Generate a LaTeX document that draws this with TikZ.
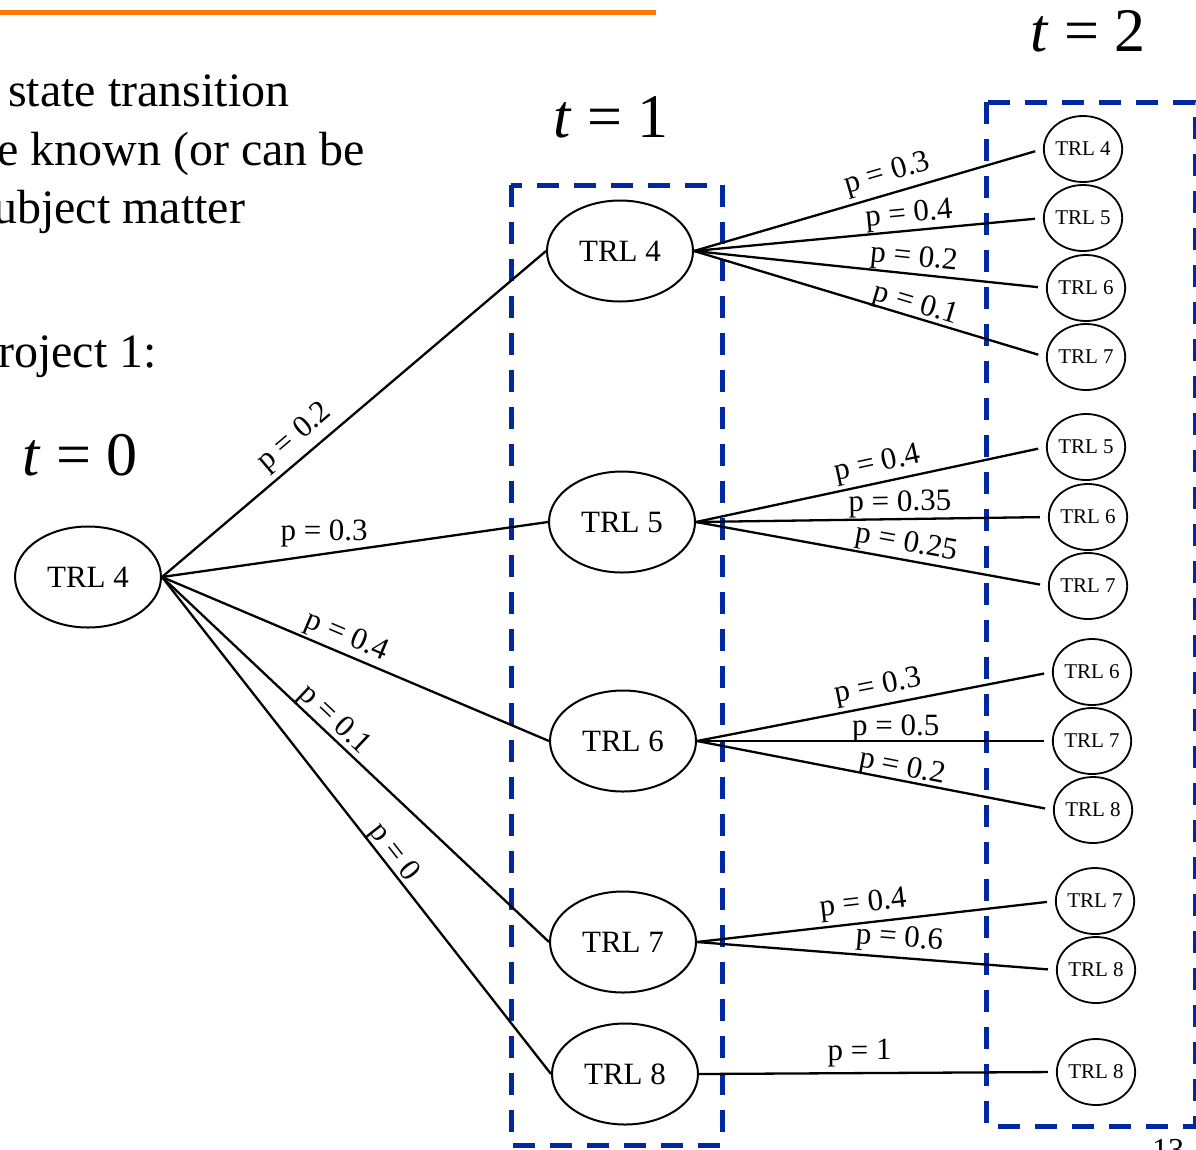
\documentclass[tikz,border=0pt]{standalone}
\usepackage{fontspec}
\setmainfont{Liberation Serif}
\usetikzlibrary{shapes.geometric}
\definecolor{boxblue}{RGB}{0,40,160}
\definecolor{barorange}{RGB}{255,120,0}
\newcommand{\myfs}[1]{\fontsize{#1}{#1}\selectfont}
\begin{document}
\begin{tikzpicture}[x=1pt,y=-1pt,
  bignode/.style={ellipse, draw, line width=2pt, minimum width=146pt, minimum height=101pt, inner sep=0pt, font=\myfs{31}},
  smallnode/.style={ellipse, draw, line width=1.8pt, minimum width=73pt, minimum height=66pt, inner sep=0pt, font=\myfs{21}},
  conn/.style={line width=2.3pt},
  conn2/.style={line width=2.3pt, shorten >=8pt},
  lab/.style={sloped, anchor=south, text depth=0pt, inner ysep=4pt, inner xsep=0pt, font=\myfs{31}},
  labflat/.style={anchor=south, text depth=0pt, inner ysep=12pt, inner xsep=0pt, font=\myfs{31}},
  tbox/.style={draw=boxblue, line width=5pt, dash pattern=on 22pt off 15pt},
  body/.style={anchor=base west, inner sep=0pt, font=\myfs{48}},
  tlab/.style={anchor=base west, inner sep=0pt, font=\myfs{62}}]
\useasboundingbox (0,0) rectangle (1196,1149);
\clip (0,0) rectangle (1196,1149);
\fill[white] (0,0) rectangle (1196,1149);

% header rule
\draw[barorange, line width=5pt] (0,12) -- (656,12);

% body text (clipped at left)
\node[body] (l1) at (8,106) {state transition};
\node[body] (l2) at (-3,165) {e known (or can be};
\node[body] (l3) at (-7,223) {ubject matter};
\node[body] (l4) at (-2,367) {roject 1:};

% time labels
\node[tlab] (t0) at (22,475) {\textit{t} = 0};
\node[tlab] (t1) at (553,137) {\textit{t} = 1};
\node[tlab] (t2) at (1030,51) {\textit{t} = 2};

% dashed stage boxes
\draw[tbox] (511,185) rectangle (722,1145);
\draw[tbox] (986,102) rectangle (1195,1126);

% t = 0
\node[bignode] (a) at (88,577) {TRL 4};

% t = 1
\node[bignode] (b4) at (620,251) {TRL 4};
\node[bignode] (b5) at (622,522) {TRL 5};
\node[bignode] (b6) at (623,741) {TRL 6};
\node[bignode] (b7) at (623,942) {TRL 7};
\node[bignode] (b8) at (625,1074) {TRL 8};

% t = 2
\node[smallnode] (c44) at (1083,149) {TRL 4};
\node[smallnode] (c45) at (1083,218) {TRL 5};
\node[smallnode] (c46) at (1086,288) {TRL 6};
\node[smallnode] (c47) at (1086,357) {TRL 7};
\node[smallnode] (c55) at (1086,447) {TRL 5};
\node[smallnode] (c56) at (1088,517) {TRL 6};
\node[smallnode] (c57) at (1088,586) {TRL 7};
\node[smallnode] (c66) at (1092,672) {TRL 6};
\node[smallnode] (c67) at (1092,741) {TRL 7};
\node[smallnode] (c68) at (1093,810) {TRL 8};
\node[smallnode] (c77) at (1095,901) {TRL 7};
\node[smallnode] (c78) at (1096,970) {TRL 8};
\node[smallnode] (c88) at (1096,1072) {TRL 8};

% t=0 -> t=1
\draw[conn] (a.east) -- (b4.west) node[lab,pos=0.38,inner ysep=12pt] {p = 0.2};
\draw[conn] (a.east) -- (b5.west) node[labflat,pos=0.42] {p = 0.3};
\draw[conn] (a.east) -- (b6.west) node[lab,pos=0.46,inner ysep=9pt] {p = 0.4};
\draw[conn] (a.east) -- (b7.west) node[lab,pos=0.42,inner ysep=6pt] {p = 0.1};
\draw[conn] (a.east) -- (b8.west) node[lab,pos=0.57] {p = 0};

% t=1 -> t=2
\draw[conn2] (b4.east) -- (c44.west) node[lab,pos=0.57,inner ysep=11pt] {p = 0.3};
\draw[conn2] (b4.east) -- (c45.west) node[lab,pos=0.62,inner ysep=7pt] {p = 0.4};
\draw[conn2] (b4.east) -- (c46.west) node[lab,pos=0.62,inner ysep=7pt] {p = 0.2};
\draw[conn2] (b4.east) -- (c47.west) node[lab,pos=0.62] {p = 0.1};

\draw[conn2] (b5.east) -- (c55.west) node[lab,pos=0.53,inner ysep=10pt] {p = 0.4};
\draw[conn2] (b5.east) -- (c56.west) node[lab,pos=0.58,inner ysep=7pt] {p = 0.35};
\draw[conn2] (b5.east) -- (c57.west) node[lab,pos=0.59,inner ysep=8pt] {p = 0.25};

\draw[conn2] (b6.east) -- (c66.west) node[lab,pos=0.52,inner ysep=10pt] {p = 0.3};
\draw[conn2] (b6.east) -- (c67.west) node[lab,pos=0.56] {p = 0.5};
\draw[conn2] (b6.east) -- (c68.west) node[lab,pos=0.57] {p = 0.2};

\draw[conn2] (b7.east) -- (c77.west) node[lab,pos=0.47,inner ysep=10pt] {p = 0.4};
\draw[conn2] (b7.east) -- (c78.west) node[lab,pos=0.56,inner ysep=10pt] {p = 0.6};

\draw[conn2] (b8.east) -- (c88.west) node[lab,pos=0.45,inner ysep=12pt] {p = 1};

% page number (cut off at the bottom)
\node[anchor=north west, inner sep=0pt, font=\myfs{32}] (pg) at (1152,1139) {13};
\end{tikzpicture}
\end{document}
